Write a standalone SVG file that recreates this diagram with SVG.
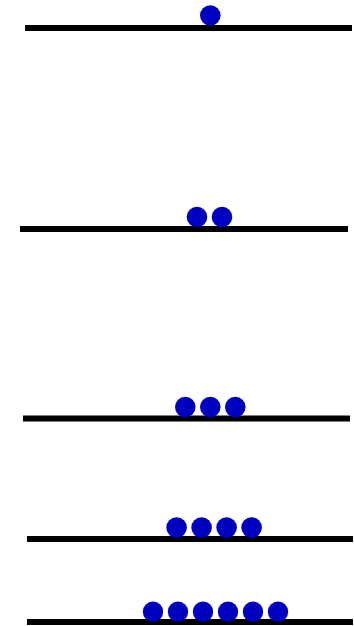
<svg xmlns="http://www.w3.org/2000/svg" width="354" height="626" viewBox="0 0 354 626">
<style>
.ln{stroke:#000;stroke-width:6;fill:none}
.b{fill:#0000c0}
</style>
<rect width="354" height="626" fill="#fff"/>
<g id="lines">
<line class="ln" x1="25" y1="28" x2="352" y2="28"/>
<line class="ln" x1="20" y1="229" x2="348" y2="229"/>
<line class="ln" x1="23" y1="418.5" x2="350" y2="418.5"/>
<line class="ln" x1="27" y1="539" x2="353" y2="539"/>
<line class="ln" x1="27" y1="622" x2="353" y2="622"/>
</g>
<g id="row1">
<circle class="b" cx="210.3" cy="15.5" r="10.3"/>
</g>
<g id="row2">
<circle class="b" cx="197" cy="217" r="10.3"/>
<circle class="b" cx="222" cy="217" r="10.3"/>
</g>
<g id="row3">
<circle class="b" cx="185.3" cy="407" r="10.3"/>
<circle class="b" cx="210.3" cy="407" r="10.3"/>
<circle class="b" cx="235.3" cy="407" r="10.3"/>
</g>
<g id="row4">
<circle class="b" cx="176.6" cy="527.6" r="10.3"/>
<circle class="b" cx="201.6" cy="527.6" r="10.3"/>
<circle class="b" cx="226.6" cy="527.6" r="10.3"/>
<circle class="b" cx="251.6" cy="527.6" r="10.3"/>
</g>
<g id="row5">
<circle class="b" cx="153" cy="611.7" r="10.2"/>
<circle class="b" cx="178" cy="611.7" r="10.2"/>
<circle class="b" cx="203" cy="611.7" r="10.2"/>
<circle class="b" cx="228" cy="611.7" r="10.2"/>
<circle class="b" cx="253" cy="611.7" r="10.2"/>
<circle class="b" cx="278" cy="611.7" r="10.2"/>
</g>
</svg>
